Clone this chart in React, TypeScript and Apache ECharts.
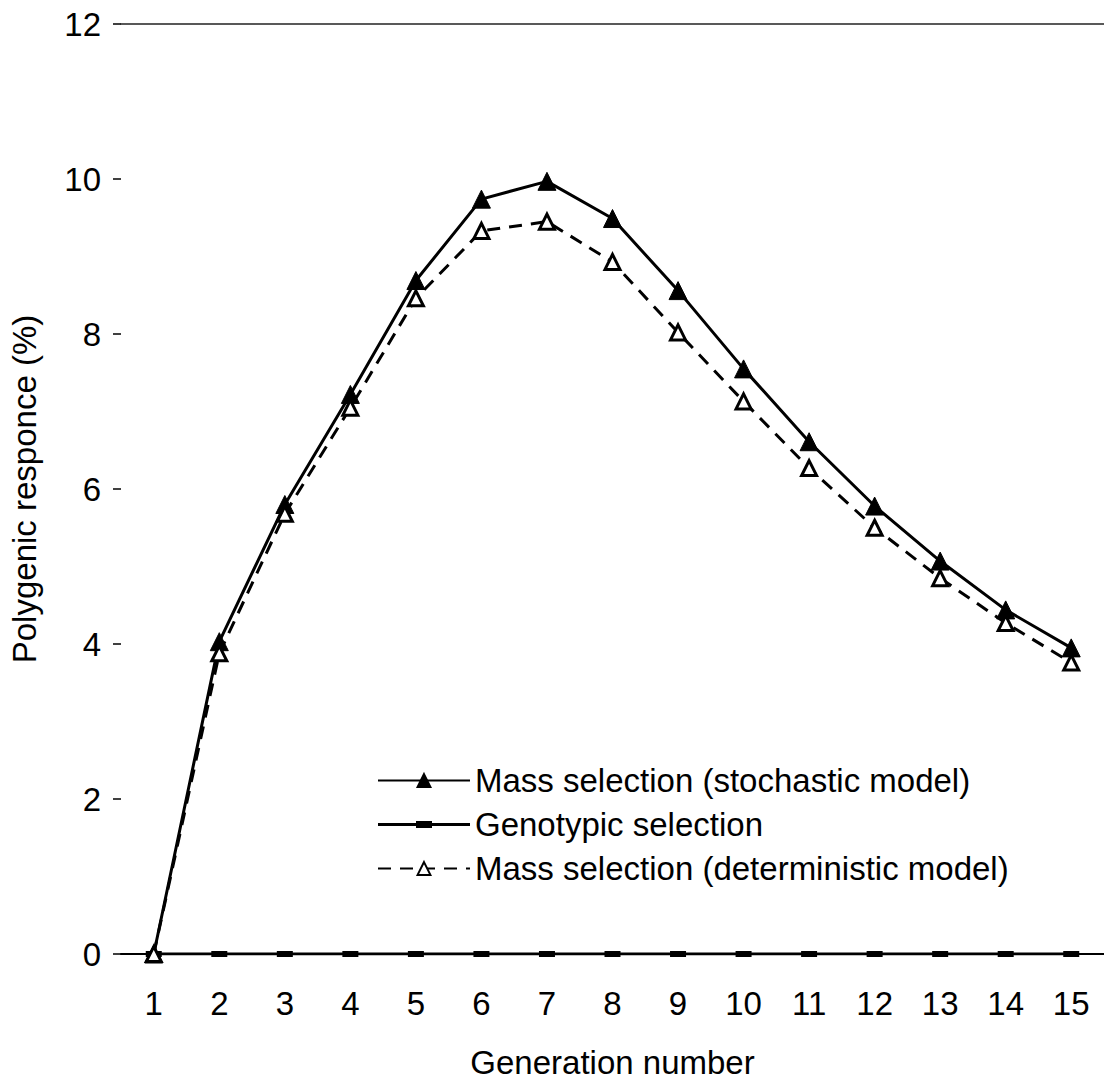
import React, { useEffect, useRef } from "react";
import * as echarts from "echarts";

const generations = ["1", "2", "3", "4", "5", "6", "7", "8", "9", "10", "11", "12", "13", "14", "15"];
const stochastic = [0, 4.03, 5.8, 7.22, 8.69, 9.74, 9.97, 9.49, 8.56, 7.55, 6.61, 5.78, 5.07, 4.44, 3.95];
const genotypic = [0, 0, 0, 0, 0, 0, 0, 0, 0, 0, 0, 0, 0, 0, 0];
const deterministic = [0, 3.88, 5.68, 7.05, 8.46, 9.33, 9.45, 8.93, 8.02, 7.13, 6.27, 5.5, 4.85, 4.27, 3.76];
const seriesNames = [
  "Mass selection (stochastic model)",
  "Genotypic selection",
  "Mass selection (deterministic model)",
];

const FONT = "'Liberation Sans', Arial, Helvetica, sans-serif";
const FS = 33;
const GENO_ICON = "path://M0 2H38V5H0Z M38 0H54V7H38Z M54 2H92V5H54Z";

export default function App() {
  const ref = useRef<HTMLDivElement>(null);
  useEffect(() => {
    if (!ref.current) return;
    const chart = echarts.init(ref.current, undefined, { renderer: "svg" });
    chart.setOption({
      animation: false,
      backgroundColor: "#ffffff",
      textStyle: { fontFamily: FONT, color: "#000" },
      grid: { left: 119, right: -4, top: 24, bottom: 127, containLabel: false },
      legend: {
        orient: "vertical",
        left: 372,
        top: 759,
        itemWidth: 92,
        itemHeight: 16,
        itemGap: 11,
        textStyle: { fontFamily: FONT, fontSize: FS, color: "#000" },
        data: [
          { name: seriesNames[0] },
          { name: seriesNames[1], icon: GENO_ICON },
          { name: seriesNames[2] },
        ],
      },
      xAxis: [
        {
          type: "category",
          data: generations,
          boundaryGap: true,
          name: "Generation number",
          nameLocation: "middle",
          nameGap: 92,
          nameTextStyle: { fontFamily: FONT, fontSize: FS, color: "#000" },
          axisLine: { show: true, lineStyle: { color: "#000", width: 2 } },
          axisTick: { show: false },
          axisLabel: { fontFamily: FONT, fontSize: FS, color: "#000", margin: 33 },
          splitLine: { show: false },
        },
        {
          type: "category",
          data: generations,
          position: "top",
          axisLine: { show: true, lineStyle: { color: "#222", width: 1.5 } },
          axisTick: { show: false },
          axisLabel: { show: false },
          splitLine: { show: false },
        },
      ],
      yAxis: {
        type: "value",
        min: 0,
        max: 12,
        interval: 2,
        name: "Polygenic responce (%)",
        nameLocation: "middle",
        nameGap: 80,
        nameTextStyle: { fontFamily: FONT, fontSize: FS, color: "#000" },
        axisLine: { show: false },
        axisTick: { show: true, length: 8, lineStyle: { color: "#000", width: 1.5 } },
        axisLabel: { fontFamily: FONT, fontSize: FS, color: "#000", margin: 20 },
        splitLine: { show: false },
      },
      series: [
        {
          name: seriesNames[0],
          type: "line",
          data: stochastic,
          symbol: "triangle",
          symbolSize: 18,
          lineStyle: { color: "#000", width: 3, type: "solid" },
          itemStyle: { color: "#000", borderColor: "#000", borderWidth: 1 },
          z: 4,
        },
        {
          name: seriesNames[1],
          type: "line",
          data: genotypic,
          symbol: "rect",
          symbolSize: [16, 6],
          lineStyle: { color: "#000", width: 3, type: "solid" },
          itemStyle: { color: "#000", borderColor: "#000", borderWidth: 0 },
          z: 3,
        },
        {
          name: seriesNames[2],
          type: "line",
          data: deterministic,
          symbol: "triangle",
          symbolSize: 15,
          lineStyle: { color: "#000", width: 3, type: [13, 9] },
          itemStyle: { color: "#fff", borderColor: "#000", borderWidth: 3 },
          z: 5,
        },
      ],
    });
    return () => chart.dispose();
  }, []);
  return (
    <div
      ref={ref}
      style={{ position: "absolute", left: 0, top: 0, width: 1104, height: 1084, background: "#fff" }}
    />
  );
}
